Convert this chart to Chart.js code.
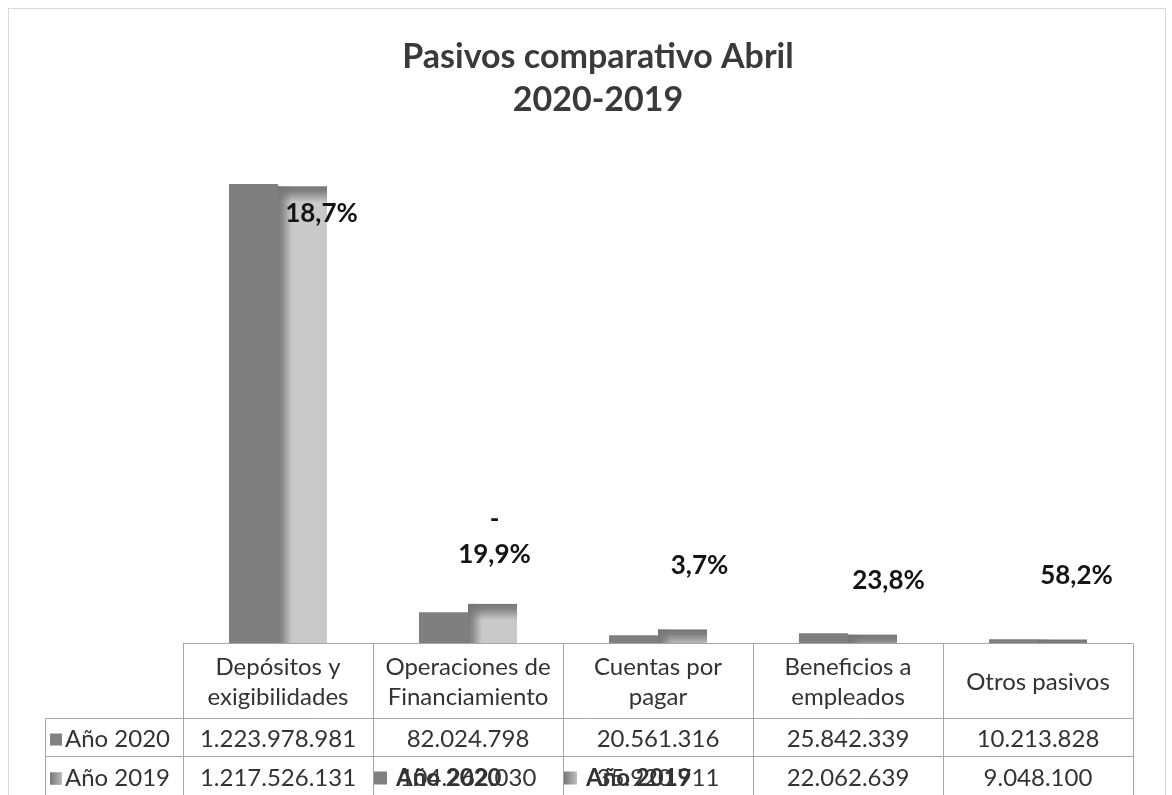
<!DOCTYPE html>
<html><head><meta charset="utf-8">
<script src="https://cdn.jsdelivr.net/npm/chart.js@4/dist/chart.umd.min.js"></script>
<style>html,body{margin:0;padding:0;background:#fff;overflow:hidden}#wrap{position:relative;width:1172px;height:795px}</style>
</head><body><div id="wrap"><canvas id="c" width="1172" height="795"></canvas></div>
<script>
const titleLines = ['Pasivos comparativo Abril', '2020-2019'];
const categories = [['Depósitos y','exigibilidades'],['Operaciones de','Financiamiento'],['Cuentas por','pagar'],['Beneficios a','empleados'],['Otros pasivos']];
const seriesNames = ['Año 2020','Año 2019'];
const values2020 = [1223978981, 82024798, 20561316, 25842339, 10213828];
const values2019 = [1217526131, 104262030, 35920711, 22062639, 9048100];
const pctLabels = [['18,7%'], ['-','19,9%'], ['3,7%'], ['23,8%'], ['58,2%']];

const FONT = 'Lato, "Open Sans", sans-serif';
const fmt = n => String(n).replace(/\B(?=(\d{3})+(?!\d))/g, '.');

const decoPlugin = {
  id: 'deco',
  beforeDraw(chart) {
    const ctx = chart.ctx;
    ctx.save();
    ctx.fillStyle = '#fff'; ctx.fillRect(0,0,chart.width,chart.height);
    ctx.strokeStyle = '#d9d9d9'; ctx.lineWidth = 1;
    ctx.strokeRect(8.5, 8.5, 1157, 820);
    ctx.fillStyle = '#3a3a3a';
    ctx.font = 'bold 34px ' + FONT;
    ctx.textAlign = 'center'; ctx.textBaseline = 'middle';
    ctx.fillText(titleLines[0], 598, 57);
    ctx.fillText(titleLines[1], 598, 100);
    ctx.restore();
  },
  afterDatasetsDraw(chart) {
    const ctx = chart.ctx;
    const meta = chart.getDatasetMeta(1);
    ctx.save();
    meta.data.forEach(el => {
      const l = el.x - el.width/2, w = el.width, t = el.y, b = el.base, h = b - t;
      let g = ctx.createLinearGradient(l, 0, l + 14, 0);
      g.addColorStop(0, 'rgba(122,122,122,1)');
      g.addColorStop(0.35, 'rgba(122,122,122,0.75)');
      g.addColorStop(1, 'rgba(122,122,122,0)');
      ctx.fillStyle = g; ctx.fillRect(l, t, 14, h);
      let v = ctx.createLinearGradient(0, t, 0, t + 16);
      v.addColorStop(0, 'rgba(118,118,118,1)');
      v.addColorStop(0.3, 'rgba(118,118,118,0.85)');
      v.addColorStop(1, 'rgba(118,118,118,0)');
      ctx.fillStyle = v; ctx.fillRect(l, t, w, Math.min(16, h));
    });
    const o = chart.options.plugins.deco;
    ctx.fillStyle = '#141414';
    ctx.font = 'bold 26px ' + FONT;
    ctx.textAlign = 'center'; ctx.textBaseline = 'middle';
    meta.data.forEach((el, i) => {
      const lines = pctLabels[i];
      const cx = el.x + o.dx[i];
      const lastY = el.y + o.dy[i];
      lines.forEach((s, k) => {
        ctx.fillText(s, cx, lastY - (lines.length - 1 - k) * 35);
      });
    });
    ctx.restore();
  },
  afterDraw(chart) {
    const ctx = chart.ctx;
    const ca = chart.chartArea;
    const x = chart.scales.x;
    const n = categories.length;
    const cw = (ca.right - ca.left) / n;
    const top = Math.round(ca.bottom) + 0.5;
    const hdrB = top + 75, r1B = hdrB + 38, r2B = r1B + 40;
    const legL = 45.5;
    ctx.save();
    ctx.strokeStyle = '#a6a6a6'; ctx.lineWidth = 1;
    ctx.beginPath();
    ctx.moveTo(ca.left, top); ctx.lineTo(ca.right, top);
    ctx.moveTo(legL, hdrB); ctx.lineTo(ca.right, hdrB);
    ctx.moveTo(legL, r1B); ctx.lineTo(ca.right, r1B);
    for (let i = 0; i <= n; i++) {
      const xx = Math.round(ca.left + i * cw) + 0.5;
      ctx.moveTo(xx, top); ctx.lineTo(xx, 800);
    }
    ctx.moveTo(legL, hdrB); ctx.lineTo(legL, 800);
    ctx.stroke();
    ctx.fillStyle = '#333';
    ctx.font = '24px ' + FONT;
    ctx.textAlign = 'center'; ctx.textBaseline = 'middle';
    categories.forEach((lines, i) => {
      const cx = x.getPixelForValue(i);
      const mid = (top + hdrB) / 2 + 1;
      lines.forEach((s, k) => ctx.fillText(s, cx, mid + (k - (lines.length - 1) / 2) * 30));
      ctx.fillText(fmt(values2020[i]), cx, (hdrB + r1B) / 2 + 2);
      ctx.fillText(fmt(values2019[i]), cx, (r1B + r2B) / 2 + 2);
    });
    ctx.textAlign = 'left';
    const rows = [(hdrB + r1B) / 2 + 2, (r1B + r2B) / 2 + 2];
    rows.forEach((cy, r) => {
      ctx.fillStyle = '#808080';
      ctx.fillRect(50, cy - 6, 12, 12);
      if (r === 1) { const g = ctx.createLinearGradient(50,0,62,0); g.addColorStop(0,'#777'); g.addColorStop(1,'#bbb'); ctx.fillStyle = g; ctx.fillRect(50, cy-6, 12, 12); }
      ctx.fillStyle = '#333';
      ctx.fillText(seriesNames[r], 65, cy);
    });
    const ly = rows[1];
    ctx.font = 'bold 24px ' + FONT;
    [0, 1].forEach(s => {
      const lx = Math.round(ca.left + (s + 1) * cw) + 1;
      if (s === 0) { ctx.fillStyle = '#808080'; }
      else { const g = ctx.createLinearGradient(lx,0,lx+13,0); g.addColorStop(0,'#777'); g.addColorStop(1,'#c0c0c0'); ctx.fillStyle = g; }
      ctx.fillRect(lx, ly - 7, 13, 13);
      ctx.fillStyle = '#333';
      ctx.fillText(seriesNames[s], lx + 22, ly);
    });
    ctx.restore();
  }
};

new Chart(document.getElementById('c'), {
  type: 'bar',
  data: {
    labels: categories,
    datasets: [
      { label: seriesNames[0], data: values2020, backgroundColor: '#7f7f7f', borderWidth: 0 },
      { label: seriesNames[1], data: values2019, backgroundColor: '#c9c9c9', borderWidth: 0 }
    ]
  },
  options: {
    responsive: false,
    devicePixelRatio: 1,
    animation: false,
    layout: { padding: { left: 183, right: 39, top: 118, bottom: 152 } },
    datasets: { bar: { barPercentage: 1, categoryPercentage: 0.516 } },
    scales: {
      x: { display: false },
      y: { display: false, min: 0, max: 1400000000 }
    },
    plugins: {
      legend: { display: false },
      title: { display: false },
      tooltip: { enabled: false },
      deco: { dx: [19, 2, 17, 16, 14], dy: [27, -49, -64, -54, -64] }
    }
  },
  plugins: [decoPlugin]
});
</script></body></html>
